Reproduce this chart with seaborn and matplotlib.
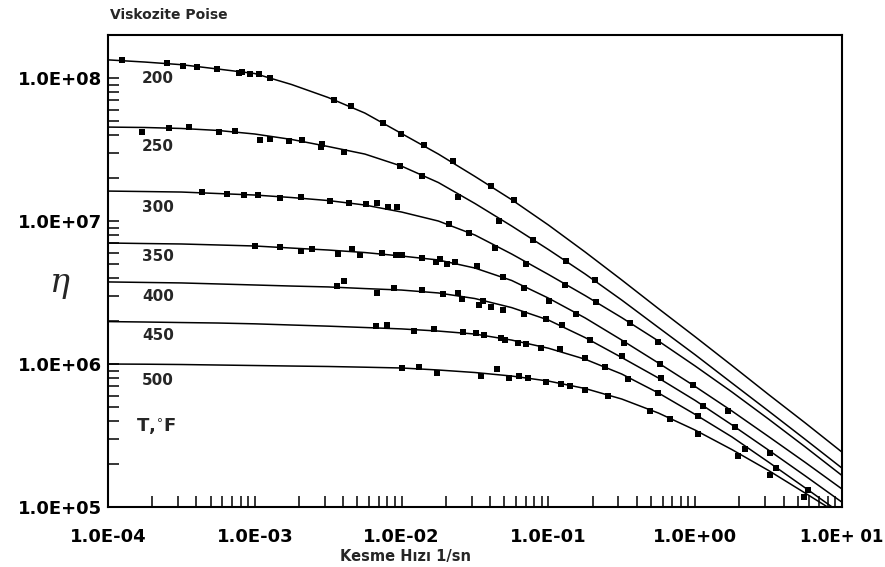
import numpy as np
import pandas as pd
import matplotlib
matplotlib.use("Agg")
import matplotlib.pyplot as plt
from matplotlib.ticker import FixedLocator, LogLocator, NullFormatter
import seaborn as sns

# ---- data -------------------------------------------------------------
TEMPS = ["200", "250", "300", "350", "400", "450", "500"]

# shear rates (1/s) at which the fitted curves are sampled (quarter decades)
CURVE_SHEAR = [1e-4, 1.78e-4, 3.16e-4, 5.62e-4,
               1e-3, 1.78e-3, 3.16e-3, 5.62e-3,
               1e-2, 1.78e-2, 3.16e-2, 5.62e-2,
               1e-1, 1.78e-1, 3.16e-1, 5.62e-1,
               1.0, 1.78, 3.16, 5.62, 10.0]

CURVE_200 = [1.34e8, 1.294e8, 1.24e8, 1.156e8, 1.075e8, 9.01e7, 7.31e7, 5.69e7,
             4.09e7, 2.94e7, 2.05e7, 1.41e7, 9.38e6, 6.07e6, 3.87e6, 2.44e6,
             1.55e6, 9.76e5, 6.12e5, 3.87e5, 2.42e5]
CURVE_250 = [4.54e7, 4.51e7, 4.44e7, 4.30e7, 4.06e7, 3.72e7, 3.32e7, 2.94e7,
             2.42e7, 1.859e7, 1.326e7, 9.23e6, 6.32e6, 4.26e6, 2.80e6, 1.80e6,
             1.16e6, 7.36e5, 4.69e5, 2.97e5, 1.87e5]
CURVE_300 = [1.62e7, 1.608e7, 1.595e7, 1.557e7, 1.52e7, 1.46e7, 1.391e7, 1.294e7,
             1.156e7, 1.00e7, 7.98e6, 5.88e6, 4.23e6, 3.01e6, 2.11e6, 1.448e6,
             9.68e5, 6.37e5, 4.12e5, 2.63e5, 1.66e5]
CURVE_350 = [7.02e6, 6.96e6, 6.91e6, 6.80e6, 6.69e6, 6.47e6, 6.27e6, 6.02e6,
             5.69e6, 5.34e6, 4.69e6, 3.84e6, 2.89e6, 2.10e6, 1.47e6, 1.016e6,
             6.96e5, 4.69e5, 3.11e5, 2.05e5, 1.336e5]
CURVE_400 = [3.75e6, 3.72e6, 3.69e6, 3.63e6, 3.57e6, 3.51e6, 3.46e6, 3.37e6,
             3.29e6, 3.14e6, 2.87e6, 2.48e6, 2.03e6, 1.53e6, 1.11e6, 7.98e5,
             5.56e5, 3.75e5, 2.50e5, 1.65e5, 1.08e5]
CURVE_450 = [1.98e6, 1.967e6, 1.95e6, 1.935e6, 1.91e6, 1.874e6, 1.84e6, 1.80e6,
             1.76e6, 1.70e6, 1.62e6, 1.47e6, 1.29e6, 1.08e6, 8.51e5, 6.27e5,
             4.44e5, 3.09e5, 2.06e5, 1.36e5, 8.93e4]
CURVE_500 = [1.00e6, 9.97e5, 9.92e5, 9.84e5, 9.76e5, 9.68e5, 9.61e5, 9.50e5,
             9.38e5, 9.08e5, 8.72e5, 8.24e5, 7.60e5, 6.74e5, 5.69e5, 4.54e5,
             3.45e5, 2.52e5, 1.80e5, 1.25e5, 8.65e4]

# measured points (shear rate, viscosity)
PTS_200_X = [1.24e-4, 2.52e-4, 3.25e-4, 4.04e-4, 5.53e-4, 7.76e-4, 8.19e-4, 9.33e-4,
             1.063e-3, 1.264e-3, 3.46e-3, 4.55e-3, 7.52e-3, 9.98e-3, 1.411e-2,
             2.237e-2, 4.07e-2, 5.87e-2]
PTS_200_Y = [1.347e8, 1.267e8, 1.219e8, 1.188e8, 1.150e8, 1.089e8, 1.102e8, 1.067e8,
             1.067e8, 1.005e8, 7.02e7, 6.37e7, 4.82e7, 4.06e7, 3.40e7,
             2.63e7, 1.757e7, 1.402e7]

PTS_250_X = [1.699e-4, 2.62e-4, 3.59e-4, 5.67e-4, 7.29e-4, 1.080e-3, 1.264e-3,
             1.704e-3, 2.10e-3, 2.81e-3, 2.85e-3, 4.05e-3, 9.77e-3, 1.374e-2,
             2.41e-2, 4.63e-2, 7.84e-2, 0.1323, 0.2088]
PTS_250_Y = [4.21e7, 4.49e7, 4.52e7, 4.17e7, 4.28e7, 3.69e7, 3.75e7,
             3.64e7, 3.69e7, 3.31e7, 3.44e7, 3.05e7, 2.42e7, 2.07e7,
             1.479e7, 1.005e7, 7.36e6, 5.28e6, 3.87e6]

PTS_300_X = [4.37e-4, 6.47e-4, 8.49e-4, 1.053e-3, 1.496e-3, 2.05e-3, 3.25e-3,
             4.38e-3, 5.76e-3, 6.77e-3, 8.09e-3, 9.27e-3, 2.11e-2, 2.86e-2,
             4.35e-2, 7.05e-2, 0.1288, 0.2121, 0.358, 0.560]
PTS_300_Y = [1.588e7, 1.537e7, 1.52e7, 1.52e7, 1.455e7, 1.479e7, 1.387e7,
             1.343e7, 1.315e7, 1.343e7, 1.259e7, 1.259e7, 9.48e6, 8.20e6,
             6.44e6, 5.00e6, 3.57e6, 2.73e6, 1.945e6, 1.418e6]

PTS_350_X = [1.009e-3, 1.496e-3, 2.05e-3, 2.46e-3, 3.68e-3, 4.62e-3, 5.21e-3,
             7.41e-3, 9.13e-3, 1.014e-2, 1.367e-2, 1.712e-2, 1.832e-2, 2.05e-2,
             2.31e-2, 3.24e-2, 4.89e-2, 6.87e-2, 0.1017, 0.1548, 0.328, 0.574,
             0.970, 1.683]
PTS_350_Y = [6.72e6, 6.55e6, 6.17e6, 6.34e6, 5.85e6, 6.34e6, 5.78e6,
             6.00e6, 5.78e6, 5.78e6, 5.49e6, 5.13e6, 5.42e6, 5.04e6,
             5.19e6, 4.85e6, 4.06e6, 3.38e6, 2.76e6, 2.23e6, 1.396e6, 9.95e5,
             7.13e5, 4.72e5]

PTS_400_X = [3.61e-3, 4.05e-3, 6.77e-3, 8.81e-3, 1.367e-2, 1.903e-2, 2.43e-2,
             2.57e-2, 3.38e-2, 3.57e-2, 4.07e-2, 4.89e-2, 6.87e-2, 9.66e-2,
             0.1237, 0.1909, 0.319, 0.583, 1.136, 1.867, 3.21]
PTS_400_Y = [3.53e6, 3.81e6, 3.12e6, 3.38e6, 3.28e6, 3.11e6, 3.12e6,
             2.83e6, 2.59e6, 2.77e6, 2.49e6, 2.39e6, 2.24e6, 2.05e6,
             1.874e6, 1.472e6, 1.137e6, 7.94e5, 5.06e5, 3.64e5, 2.40e5]

PTS_450_X = [6.66e-3, 7.96e-3, 1.206e-2, 1.667e-2, 2.61e-2, 3.21e-2, 3.66e-2,
             4.76e-2, 5.07e-2, 6.19e-2, 7.05e-2, 8.93e-2, 0.1191, 0.1764,
             0.2416, 0.349, 0.560, 1.050, 2.185, 3.56, 5.83]
PTS_450_Y = [1.844e6, 1.889e6, 1.709e6, 1.751e6, 1.682e6, 1.639e6, 1.595e6,
             1.512e6, 1.472e6, 1.409e6, 1.380e6, 1.287e6, 1.267e6, 1.107e6,
             9.57e5, 7.82e5, 6.24e5, 4.33e5, 2.54e5, 1.865e5, 1.315e5]

PTS_500_X = [1.014e-2, 1.304e-2, 1.731e-2, 3.48e-2, 4.45e-2, 5.42e-2, 6.35e-2,
             7.24e-2, 9.66e-2, 0.1210, 0.1409, 0.1764, 0.2549, 0.490, 0.672,
             1.050, 1.970, 3.24, 5.53]
PTS_500_Y = [9.33e5, 9.48e5, 8.69e5, 8.24e5, 9.18e5, 7.94e5, 8.24e5,
             7.94e5, 7.52e5, 7.21e5, 7.02e5, 6.58e5, 5.97e5, 4.69e5, 4.10e5,
             3.24e5, 2.27e5, 1.674e5, 1.184e5]

X_TICKS = [1e-4, 1e-3, 1e-2, 1e-1, 1e0, 1e1]
X_TICK_LABELS = ["1.0E-04", "1.0E-03", "1.0E-02", "1.0E-01", "1.0E+00", "1.0E+ 01"]
Y_TICKS = [1e5, 1e6, 1e7, 1e8]
Y_TICK_LABELS = ["1.0E+05", "1.0E+06", "1.0E+07", "1.0E+08"]

# ---- tidy tables ------------------------------------------------------
curves = [CURVE_200, CURVE_250, CURVE_300, CURVE_350, CURVE_400, CURVE_450, CURVE_500]
pts_x = [PTS_200_X, PTS_250_X, PTS_300_X, PTS_350_X, PTS_400_X, PTS_450_X, PTS_500_X]
pts_y = [PTS_200_Y, PTS_250_Y, PTS_300_Y, PTS_350_Y, PTS_400_Y, PTS_450_Y, PTS_500_Y]

lines_df = pd.concat(
    [pd.DataFrame({"shear": CURVE_SHEAR, "visc": c, "temp": t})
     for t, c in zip(TEMPS, curves)], ignore_index=True)
points_df = pd.concat(
    [pd.DataFrame({"shear": x, "visc": y, "temp": t})
     for t, x, y in zip(TEMPS, pts_x, pts_y)], ignore_index=True)

# ---- figure -----------------------------------------------------------
sns.set_style("white")
plt.rcParams["font.family"] = ["DejaVu Sans"]

W, H = 885, 567
fig = plt.figure(figsize=(W / 100, H / 100), dpi=100)
left, right, top, bottom = 108, 842, 35, 507
ax = fig.add_axes([left / W, 1 - bottom / H, (right - left) / W, (bottom - top) / H])
ax.set_xscale("log")
ax.set_yscale("log")

sns.lineplot(data=lines_df, x="shear", y="visc", units="temp", estimator=None,
             sort=False, color="black", linewidth=1.1, ax=ax)
sns.scatterplot(data=points_df, x="shear", y="visc", marker="s", color="black",
                s=24, linewidth=0, ax=ax, zorder=3)

ax.set_xlim(1e-4, 1e1)
ax.set_ylim(1e5, 2e8)
ax.set_xlabel("")
ax.set_ylabel("")

for side in ["left", "right", "top", "bottom"]:
    ax.spines[side].set_linewidth(1.5)
    ax.spines[side].set_color("black")

ax.xaxis.set_major_locator(FixedLocator(X_TICKS))
ax.yaxis.set_major_locator(FixedLocator(Y_TICKS))
ax.xaxis.set_minor_locator(LogLocator(base=10, subs=np.arange(2, 10), numticks=30))
ax.yaxis.set_minor_locator(LogLocator(base=10, subs=np.arange(2, 10), numticks=30))
ax.xaxis.set_minor_formatter(NullFormatter())
ax.yaxis.set_minor_formatter(NullFormatter())
ax.set_xticklabels(X_TICK_LABELS, fontsize=13, fontweight="bold")
ax.set_yticklabels(Y_TICK_LABELS, fontsize=13, fontweight="bold")
ax.get_xticklabels()[-1].set_fontsize(12)
ax.tick_params(which="both", direction="in", length=8, width=1.1,
               bottom=True, left=True, top=False, right=False, colors="black")
ax.tick_params(axis="x", which="major", pad=15)
ax.tick_params(axis="y", which="major", pad=4)

# temperature labels beside each curve
label_y = [0.908, 0.763, 0.634, 0.530, 0.446, 0.364, 0.268]
for t, yy in zip(TEMPS, label_y):
    ax.text(0.068, yy, t, transform=ax.transAxes, ha="center", va="center",
            fontsize=11, fontweight="bold")
ax.text(0.066, 0.170, "T,$^{\\circ}$F", transform=ax.transAxes, ha="center",
        va="center", fontsize=13, fontweight="bold")

fig.text(110 / W, 1 - 15 / H, "Viskozite Poise", ha="left", va="center",
         fontsize=10, fontweight="bold")
fig.text(406 / W, 1 - 556 / H, "Kesme Hızı 1/sn", ha="center", va="center",
         fontsize=10.5, fontweight="bold")
fig.text(60 / W, 1 - 283 / H, "η", ha="center", va="center", fontsize=24,
         family="DejaVu Serif", style="italic")

fig.savefig("out.png", dpi=100)
